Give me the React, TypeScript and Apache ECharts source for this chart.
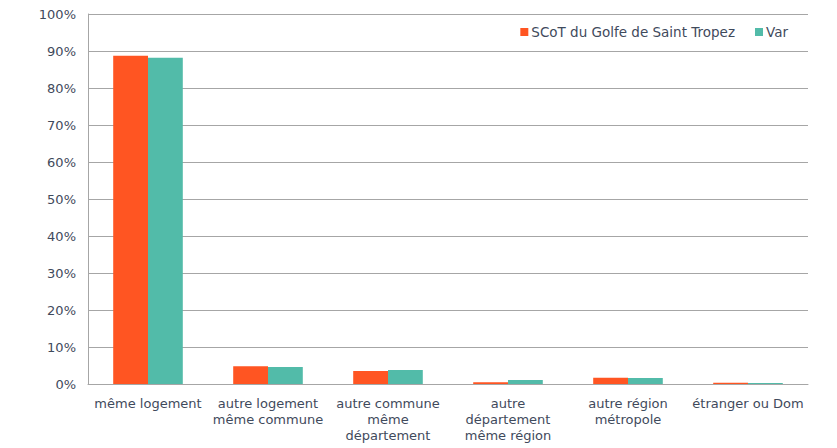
import React, { useEffect, useRef } from "react";
import * as echarts from "echarts";

const categories = [
  "même logement",
  "autre logement\nmême commune",
  "autre commune\nmême\ndépartement",
  "autre\ndépartement\nmême région",
  "autre région\nmétropole",
  "étranger ou Dom",
];
const scotValues = [88.7, 4.8, 3.5, 0.5, 1.7, 0.35];
const varValues = [88.2, 4.6, 3.8, 1.1, 1.6, 0.3];
const seriesNames = ["SCoT du Golfe de Saint Tropez", "Var"];

export default function App() {
  const ref = useRef<HTMLDivElement>(null);
  useEffect(() => {
    document.body.style.margin = "0";
    const chart = echarts.init(ref.current!, null, { renderer: "svg" });
    const textColor = "#3F4A5C";
    const font = "DejaVu Sans";
    chart.setOption({
      animation: false,
      backgroundColor: "#ffffff",
      grid: { left: 88, right: 29, top: 14, bottom: 64, containLabel: false },
      legend: {
        right: 44,
        top: 20,
        itemWidth: 8,
        itemHeight: 8,
        itemGap: 20,
        icon: "rect",
        textStyle: { color: textColor, fontFamily: font, fontSize: 13.5, padding: [0, 0, 0, -2] },
        data: seriesNames,
      },
      xAxis: {
        type: "category",
        data: categories,
        axisLine: { show: true, lineStyle: { color: "#a6a6a6" } },
        axisTick: { show: false },
        axisLabel: {
          color: textColor,
          fontFamily: font,
          fontSize: 13,
          lineHeight: 16,
          margin: 11,
          interval: 0,
        },
      },
      yAxis: {
        type: "value",
        min: 0,
        max: 100,
        interval: 10,
        axisLine: { show: true, lineStyle: { color: "#a6a6a6" } },
        axisTick: { show: false },
        splitLine: { lineStyle: { color: "#a6a6a6" } },
        axisLabel: {
          color: textColor,
          fontFamily: font,
          fontSize: 13,
          margin: 12,
          formatter: "{value}%",
        },
      },
      series: [
        {
          name: seriesNames[0],
          type: "bar",
          data: scotValues,
          itemStyle: { color: "#FF5522" },
          barGap: "0%",
          barCategoryGap: "42%",
        },
        {
          name: seriesNames[1],
          type: "bar",
          data: varValues,
          itemStyle: { color: "#52BBA9" },
          barGap: "0%",
          barCategoryGap: "42%",
        },
      ],
    });
    return () => chart.dispose();
  }, []);
  return <div ref={ref} style={{ width: 837, height: 448 }} />;
}
